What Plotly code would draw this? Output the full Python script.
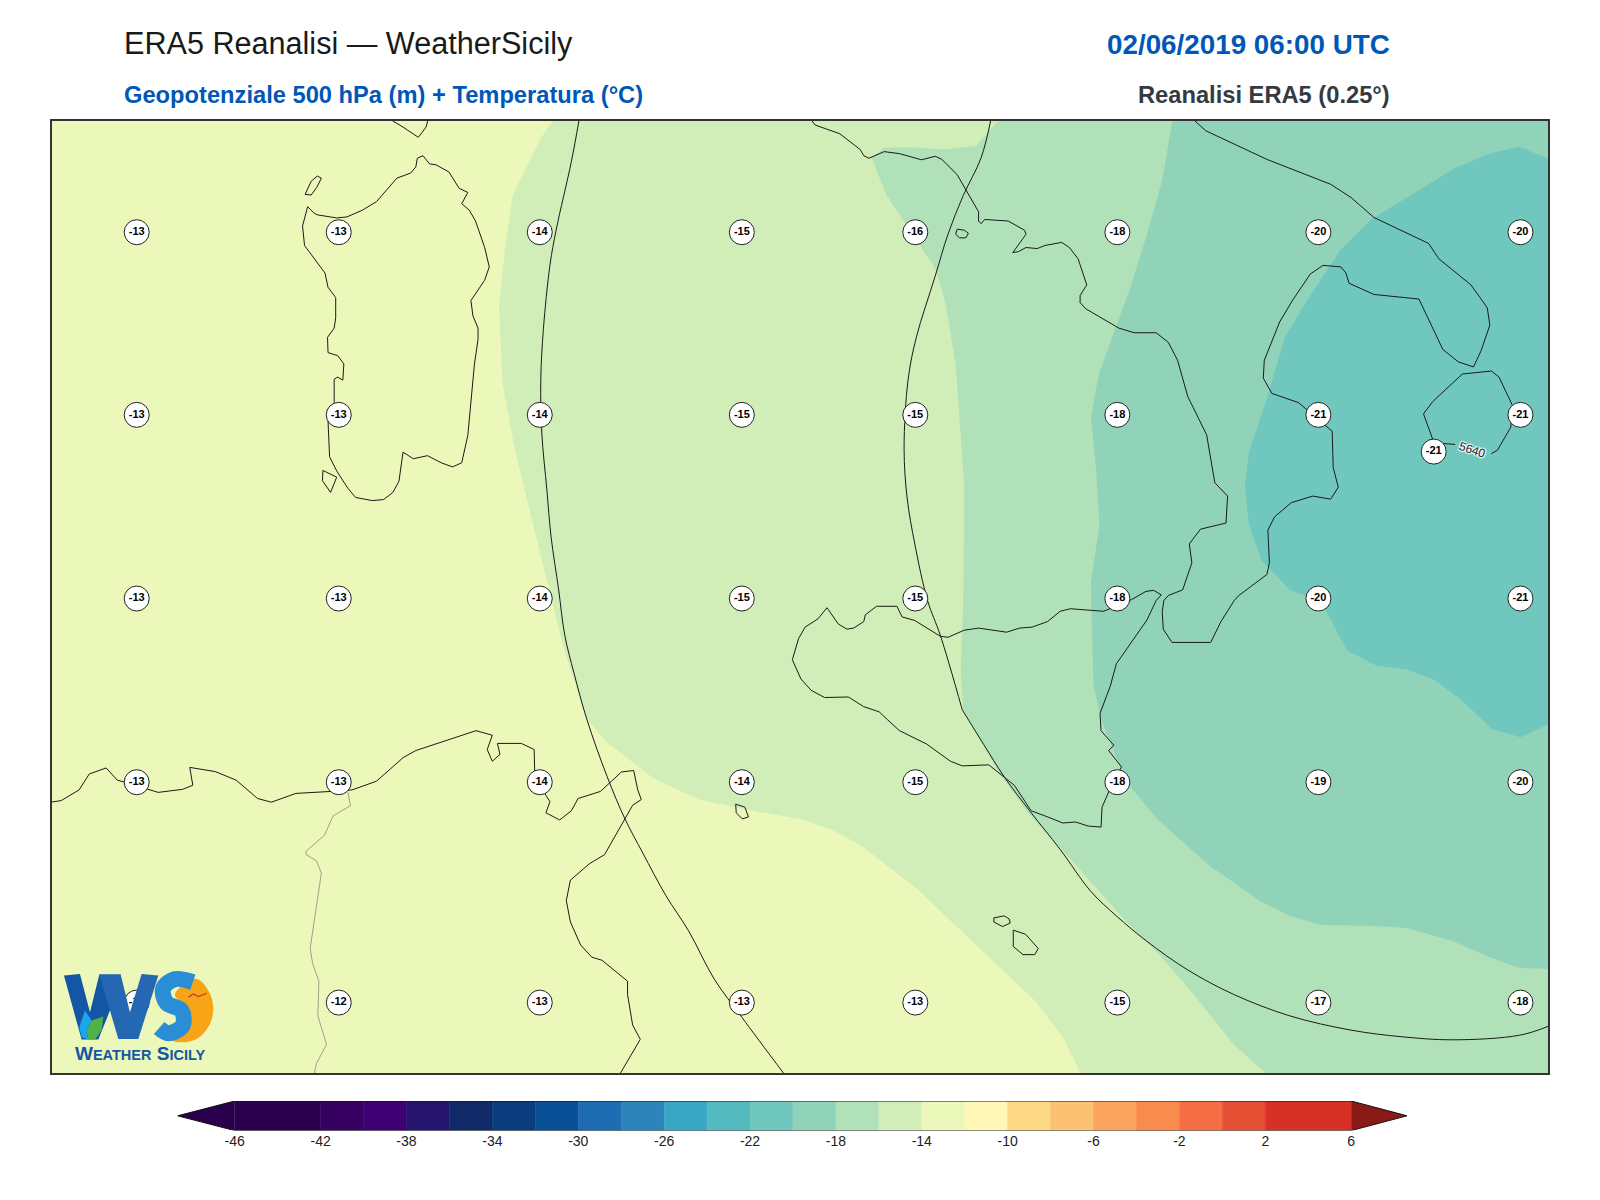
import plotly.graph_objects as go

# map coordinates (east, south map units)
COL_E = [134, 332, 529, 727, 897, 1095, 1292, 1490]
ROW_S = [227, 406, 586, 766, 982]
TEMPS = [
    [-13, -13, -14, -15, -16, -18, -20, -20],
    [-13, -13, -14, -15, -15, -18, -21, -21],
    [-13, -13, -14, -15, -15, -18, -20, -21],
    [-13, -13, -14, -14, -15, -18, -19, -20],
    [-13, -12, -13, -13, -13, -15, -17, -18],
]
EXTRA_E = [1405]
EXTRA_S = [442]
EXTRA_T = [-21]

# colour bar
CB_LEFT = [-46, -42, -40, -38, -36, -34, -32, -30, -28, -26, -24, -22, -20, -18, -16, -14, -12, -10, -8, -6, -4, -2, 0, 2]
CB_WIDTH = [4, 2, 2, 2, 2, 2, 2, 2, 2, 2, 2, 2, 2, 2, 2, 2, 2, 2, 2, 2, 2, 2, 2, 4]
CB_COLORS = ["#2a004d", "#35005f", "#3f0074", "#25156f", "#0f2a66", "#0b3c7e", "#094f96", "#1e6cb1",
             "#2c84ba", "#39a6c4", "#53bbc0", "#70c7bd", "#91d3b9", "#b1e1b8", "#d1edb8", "#ecf7ba",
             "#fef7b6", "#fdd986", "#fdc174", "#fca55e", "#f98b4c", "#f46d43", "#e55035", "#d73027"]
CB_TICKS = [-46, -42, -38, -34, -30, -26, -22, -18, -14, -10, -6, -2, 2, 6]

# temperature bands, warm to cold
BAND14_E = [542.5, 530, 502.5, 495, 489, 492.5, 505, 520, 535, 544, 552.5, 575, 595, 640, 685, 735, 784, 814, 844, 899, 954, 1014, 1041.5, 1059.5, 1518, 1518]
BAND14_S = [117, 135, 191, 244, 300, 375, 442.5, 502.5, 562.5, 599, 635, 704, 727, 762, 783, 793.5, 802, 812, 828, 871, 923.6, 980, 1015.5, 1052, 1052, 117]
BAND16_E = [979, 956.5, 926.5, 896.5, 866.5, 854, 869, 899, 916.5, 926.5, 936.5, 945, 944, 941.5, 944, 979, 1009, 1054, 1104, 1134, 1164, 1209, 1241.5, 1518, 1518]
BAND16_S = [117, 142.5, 146, 144, 144, 154, 191, 236, 262.5, 296, 356, 476, 588, 655.5, 695, 757, 798, 847, 903, 933, 967, 1023, 1052, 1052, 117]
BAND18_E = [1149, 1139, 1124, 1109, 1091.5, 1076.5, 1069, 1074, 1077.5, 1069, 1071.5, 1079, 1094, 1109, 1134, 1184, 1234, 1264, 1294, 1349, 1379, 1424, 1459, 1489, 1518, 1518]
BAND18_S = [117, 176, 229, 277.5, 326, 367.5, 409, 457.5, 514, 570, 670.5, 704, 742, 772, 802, 847, 882, 897, 906, 907, 909, 922, 937, 948, 949, 117]
BAND20_E = [1518, 1489, 1459, 1424, 1379, 1344, 1314, 1284, 1259, 1241.5, 1224, 1220, 1224, 1236.5, 1264, 1284, 1296.5, 1320, 1349, 1379, 1405.5, 1434, 1461.5, 1490, 1518]
BAND20_S = [155.6, 143, 150, 165, 193, 214, 244, 289, 330, 390, 442.5, 476, 514, 549, 577.5, 585, 592, 637, 652, 655.5, 665.6, 687, 713.6, 722, 709]

# coasts
CORSICA_E = [383.5, 395, 410, 417.5, 419.5]
CORSICA_S = [117, 124, 134, 124, 117]
ASINARA_E = [299, 305, 311, 315, 310.5, 305, 299]
ASINARA_S = [190, 177, 172, 174, 183, 190.5, 190]
SARDINIA_E = [301.5, 307.5, 311, 330, 340, 355, 369, 380, 389, 402.5, 407.5, 409, 414.5, 421, 427.5, 440, 450, 458.5, 452.5, 460, 466, 475, 479.5, 475, 461.5, 463.5, 468.5, 468.5, 465, 458.5, 452.5, 443.5, 432.5, 419, 405, 395, 391, 385, 376, 365, 348.5, 341, 330, 323, 321.5, 327.5, 327.5, 331, 336, 337, 331, 321.5, 321, 327.5, 329, 329, 321.5, 318.5, 310, 298.5, 296.5, 301.5]
SARDINIA_S = [202, 208, 210, 213, 212, 205.5, 197, 184, 174, 169, 163, 154.5, 152, 160, 161, 168, 184, 188, 199, 205.5, 216, 242, 261, 274, 294, 309, 321, 332, 356, 426, 453, 457, 453, 446, 449, 442.5, 471, 482, 489, 490, 487, 478, 461, 447, 412.5, 394, 371, 369, 372, 356, 348, 345, 330, 321, 311, 291, 281, 267, 255, 240, 221, 202]
SAN_PIETRO_E = [316.5, 330, 324, 316, 316.5]
SAN_PIETRO_S = [460.5, 467, 482, 470.5, 460.5]
ITALY_E = [795, 799, 823, 843, 846.5, 851.5, 866.5, 881.5, 903, 916.5, 923, 938, 959, 959, 961.5, 965, 988, 1004, 1005.5, 992.5, 998, 1005.5, 1016.5, 1024, 1040.5, 1048, 1056.5, 1065, 1058.5, 1058.5, 1064, 1096.5, 1111.5, 1133, 1145, 1154, 1164, 1182.5, 1190.5, 1203, 1201.5, 1176.5, 1165.5, 1168, 1159, 1145, 1140.5, 1139, 1140, 1148.5, 1186.5, 1196.5, 1209.5, 1214, 1241.5, 1244, 1242.5, 1249, 1265.5, 1286.5, 1304, 1311.5, 1306.5, 1305.5, 1272.5, 1246.5, 1238, 1239, 1254, 1266.5, 1284, 1296.5, 1314, 1319, 1322, 1346.5, 1390.5, 1414, 1429, 1444, 1451.5, 1460, 1457.5, 1441.5, 1410, 1400, 1346.5, 1324, 1304, 1241.5, 1181.5, 1170]
ITALY_S = [117, 122, 130.5, 146, 152, 154.5, 148, 150, 156, 152.6, 155.6, 170.6, 207, 216, 218.6, 214.5, 216, 225, 229, 247, 246, 242, 243, 240, 237, 242, 253, 278.6, 289, 296, 302, 321, 325.5, 325.5, 335, 352.5, 388, 425.6, 472.5, 485.6, 512, 518, 532.5, 551, 577.5, 583, 588, 599, 616, 629, 629, 608.6, 588, 583, 562.5, 551, 519, 506, 492, 485.6, 488.6, 477, 457.5, 422, 394, 385, 370, 352.5, 315, 294, 268, 259.5, 261, 267, 277, 288, 292.5, 342, 354, 359, 343, 318, 301, 278.6, 253, 238, 212.6, 193, 180, 155.6, 127.5, 117]
PONZA_E = [938, 945, 949, 946.5, 940.5, 936.5, 938]
PONZA_S = [224, 225, 228, 232.5, 232.5, 229, 224]
SICILY_E = [810.5, 821.5, 830, 836.5, 846.5, 848, 859, 879, 884, 896.5, 921.5, 929, 945, 959, 986.5, 999, 1011.5, 1026.5, 1039, 1049, 1081.5, 1109, 1123, 1130.5, 1138, 1133, 1124, 1094, 1088, 1078, 1079, 1091.5, 1086.5, 1099, 1086.5, 1080, 1079, 1066.5, 1054, 1041.5, 1024, 1010.5, 994, 969, 943, 931.5, 908, 881.5, 870, 861.5, 846.5, 831.5, 808, 795, 785, 776.5, 782.5, 789, 801.5, 810.5]
SICILY_S = [595, 611, 616, 615, 608.6, 602, 593.6, 593.6, 604, 607.5, 623, 624, 617, 615, 619, 615, 614, 608.6, 598.5, 596, 598.5, 587, 579, 578, 582.4, 588, 607, 650, 672, 698.6, 715.5, 729.75, 735, 751, 775.5, 790.5, 810, 809, 805, 806, 799, 794, 769, 749, 750, 745.5, 728.6, 715.5, 705, 697, 692, 682.5, 683, 676, 665, 646, 625.5, 614, 606, 595]
PANTELLERIA_E = [721, 730, 733.5, 727.5, 721.5, 721]
PANTELLERIA_S = [787.5, 790.5, 800, 802, 796, 787.5]
GOZO_E = [974, 984, 989, 990, 982.5, 974, 974]
GOZO_S = [899, 897, 900, 904, 907.5, 903, 899]
MALTA_E = [993, 1005, 1017.5, 1014, 1002.5, 993, 993]
MALTA_S = [911, 915, 929, 935, 935, 927, 911]
AFRICA_E = [50, 60, 77.5, 87.5, 104, 115, 122.5, 155, 179, 189, 186, 211, 231.5, 252.5, 266, 290, 325, 345, 369, 395, 407.5, 466.5, 482.5, 477.5, 482.5, 490, 487.5, 511, 523.5, 524, 535, 539, 535, 548.5, 560, 566.5, 588.5, 609, 621, 625, 628.5, 620, 592.5, 577.5, 559, 555, 559, 569, 580, 590, 615, 615, 620, 627.5, 607.5]
AFRICA_S = [785.6, 784, 773.6, 758, 752, 764, 766, 776, 773, 769, 751.5, 755.6, 764, 782, 785.6, 777, 775, 773.6, 765, 742, 735, 715.5, 720, 734, 745.5, 738.75, 728, 728, 734, 755, 779, 785, 796, 803, 794, 782, 775, 756, 754.5, 773.6, 783, 788.6, 837, 846, 862, 882, 903, 925.5, 937.5, 940.5, 961, 974, 1004, 1018, 1052]
BORDER_E = [341, 343.5, 326.5, 318, 300, 300, 310, 315, 304, 306.5, 312.5, 311.5, 320, 310, 308]
BORDER_S = [775.5, 789, 799, 818, 833.6, 837, 843, 855, 929, 944, 961, 995, 1023, 1042, 1052]

# geopotential contours
Z_WEST_E = [567.5, 560, 545, 539, 532.5, 530, 531, 536, 540, 547.5, 553.5, 562.5, 575, 595, 612.5, 630, 652.5, 675, 700, 727.5, 768.5]
Z_WEST_S = [117, 157.5, 225, 259, 322.5, 371, 424, 480, 525, 577.5, 622, 659, 704, 760.5, 802, 835.5, 877, 912, 959, 997, 1052]
Z_EAST_UP_E = [971, 961.5, 944, 929, 916.5, 898, 890, 886, 889, 896.5, 909, 921.5, 943]
Z_EAST_UP_S = [117, 154, 191, 229, 270, 330, 371, 439, 487.5, 532.5, 588, 622, 695]
Z_EAST_LOW_E = [943, 964, 984, 1009, 1039, 1069, 1094, 1124, 1164, 1209, 1264, 1324, 1374, 1424, 1489, 1518]
Z_EAST_LOW_S = [695, 729, 760.5, 794, 832, 873, 897, 922, 950, 974, 995, 1009, 1015.5, 1018.5, 1014, 1005]
Z_LOOP_E = [1426, 1414, None, 1404, 1395, 1404, 1433, 1461.5, 1469, 1482.5, 1480.5, 1467.5, 1461.5]
Z_LOOP_S = [435, 434, None, 430, 405, 393, 366, 363, 369, 397.5, 418, 440.6, 444]

# logo
LOGO_W1_E = [62.7, 78.4, 88.2, 97.4, 118.3, 107.8, 96.4, 80, 62.7]
LOGO_W1_S = [955.5, 953.9, 991.4, 954.5, 954.5, 989.8, 1018.2, 1018.2, 955.5]
LOGO_W2_E = [97.4, 118.3, 127.4, 138.8, 155.2, 135.6, 116, 97.4]
LOGO_W2_S = [954.5, 954.5, 991.4, 953.9, 955.5, 1017.6, 1017.6, 954.5]
LOGO_S_E = [189, 171.5, 160, 163, 178, 179, 165, 156]
LOGO_S_S = [962, 959, 968, 982, 990, 1004.5, 1012, 1007]
LOGO_SUN_E = [192.7, 204.2, 209, 205.8, 192.7, 174.8, 156.8, 174.8, 186.2, 186.2, 171.5, 174.8, 192.7]
LOGO_SUN_S = [958.8, 970.2, 986.5, 1002.9, 1017.6, 1020.8, 1014.3, 1015.9, 1006.1, 989.8, 975.1, 968.6, 958.8]
LOGO_LEAF_E = [84.9, 89.8, 101.3, 99.6, 93.1, 86.6, 84.9]
LOGO_LEAF_S = [1009.4, 999.6, 995.7, 1009.4, 1018.2, 1018.2, 1009.4]
LOGO_DROP_E = [83.3, 89.8, 84.9, 86.6, 80, 77.7, 83.3]
LOGO_DROP_S = [989.8, 999.6, 1009.4, 1018.2, 1016, 1006.1, 989.8]
LOGO_BIRD_E = [184.6, 189.5, 194.4, 202.6]
LOGO_BIRD_S = [976.7, 973.5, 976.1, 972.8]

FONT = "Liberation Sans"
W, H = 1600, 1200
fig = go.Figure()


def add_poly(e, s, color, name, shape="linear"):
    fig.add_trace(go.Scatter(x=e, y=s, mode="lines", fill="toself", fillcolor=color,
                             line=dict(width=0, shape=shape), hoverinfo="skip", name=name))


def add_line(e, s, name, color="#1a1a1a", width=1.0, shape="linear"):
    fig.add_trace(go.Scatter(x=e, y=s, mode="lines", line=dict(color=color, width=width, shape=shape),
                             hoverinfo="skip", name=name))


add_poly(BAND14_E, BAND14_S, CB_COLORS[14], "-16/-14")
add_poly(BAND16_E, BAND16_S, CB_COLORS[13], "-18/-16")
add_poly(BAND18_E, BAND18_S, CB_COLORS[12], "-20/-18")
add_poly(BAND20_E, BAND20_S, CB_COLORS[11], "-22/-20")

add_line(BORDER_E, BORDER_S, "border", color="#8a8a80", width=0.8)
for name, e, s in [("corsica", CORSICA_E, CORSICA_S), ("asinara", ASINARA_E, ASINARA_S),
                   ("sardinia", SARDINIA_E, SARDINIA_S), ("san pietro", SAN_PIETRO_E, SAN_PIETRO_S),
                   ("italy", ITALY_E, ITALY_S), ("ponza", PONZA_E, PONZA_S), ("sicily", SICILY_E, SICILY_S),
                   ("pantelleria", PANTELLERIA_E, PANTELLERIA_S), ("gozo", GOZO_E, GOZO_S),
                   ("malta", MALTA_E, MALTA_S), ("africa", AFRICA_E, AFRICA_S),
                   ("z loop", Z_LOOP_E, Z_LOOP_S)]:
    add_line(e, s, name)
add_line(Z_WEST_E, Z_WEST_S, "z west", shape="spline")
add_line(Z_EAST_UP_E, Z_EAST_UP_S, "z east", shape="spline")
add_line(Z_EAST_LOW_E, Z_EAST_LOW_S, "z east", shape="spline")

# temperature labels
label_e = [e for _ in ROW_S for e in COL_E] + EXTRA_E
label_s = [s for s in ROW_S for _ in COL_E] + EXTRA_S
label_t = [t for row in TEMPS for t in row] + EXTRA_T
fig.add_trace(go.Scatter(x=label_e, y=label_s, mode="markers+text", text=[str(t) for t in label_t],
                         textposition="middle center",
                         textfont=dict(family=FONT, size=11, color="black", weight="bold"),
                         marker=dict(size=25, color="white", line=dict(color="#222222", width=1)),
                         hoverinfo="skip", name="T"))

# logo on top of the labels
add_poly(LOGO_SUN_E, LOGO_SUN_S, "#f7a416", "logo sun", shape="spline")
add_poly(LOGO_W1_E, LOGO_W1_S, "#1356a4", "logo w")
add_poly(LOGO_W2_E, LOGO_W2_S, "#2468b4", "logo w")
add_line(LOGO_S_E, LOGO_S_S, "logo s", color="#2a8ed6", width=16, shape="spline")
add_poly(LOGO_DROP_E, LOGO_DROP_S, "#1aa6ea", "logo drop")
add_poly(LOGO_LEAF_E, LOGO_LEAF_S, "#4fb34a", "logo leaf")
add_line(LOGO_BIRD_E, LOGO_BIRD_S, "logo bird", color="#c0392b", width=1.2)

# colour bar on its own axes
fig.add_trace(go.Bar(x=[l + w / 2 for l, w in zip(CB_LEFT, CB_WIDTH)], y=[1] * len(CB_LEFT), width=CB_WIDTH,
                     marker=dict(color=CB_COLORS, line=dict(color=CB_COLORS, width=0.5)), xaxis="x2", yaxis="y2",
                     hoverinfo="skip", name="colorbar"))
fig.add_trace(go.Scatter(x=[-46, -48.66, -46], y=[0, 0.5, 1], mode="lines", fill="toself", fillcolor="#2a004d",
                         line=dict(width=0), xaxis="x2", yaxis="y2", hoverinfo="skip", name="under"))
fig.add_trace(go.Scatter(x=[6, 8.6, 6], y=[0, 0.5, 1], mode="lines", fill="toself", fillcolor="#8b1a16",
                         line=dict(width=0), xaxis="x2", yaxis="y2", hoverinfo="skip", name="over"))
fig.add_trace(go.Scatter(x=[-46, -48.66, -46, 6, 8.6, 6, -46], y=[1, 0.5, 0, 0, 0.5, 1, 1], mode="lines",
                         line=dict(color="#111111", width=1), xaxis="x2", yaxis="y2", hoverinfo="skip", name="outline"))

fig.update_layout(
    width=W,
    height=H,
    margin=dict(l=0, r=0, t=0, b=0),
    showlegend=False,
    paper_bgcolor="white",
    plot_bgcolor="white",
    font=dict(family=FONT, color="#222222"),
    xaxis=dict(domain=[52 / W, 1548 / W], range=[51, 1517], showticklabels=False, ticks="", showgrid=False,
               zeroline=False, showline=True, mirror=True, linecolor="#333333", linewidth=2),
    yaxis=dict(domain=[1 - 1073 / H, 1 - 121 / H], range=[1051, 118], showticklabels=False, ticks="", showgrid=False,
               zeroline=False, showline=True, mirror=True, linecolor="#333333", linewidth=2),
    xaxis2=dict(domain=[177.6 / W, 1407 / W], range=[-48.66, 8.6], anchor="y2", tickvals=CB_TICKS,
                ticktext=[str(t) for t in CB_TICKS],
                tickfont=dict(size=14, color="#222222"), ticks="", showgrid=False, zeroline=False, showline=False),
    yaxis2=dict(domain=[1 - 1130.6 / H, 1 - 1101 / H], range=[0, 1], anchor="x2", visible=False),
)
# warmest band fills the whole map
fig.add_shape(type="rect", xref="x domain", yref="y domain", x0=0, x1=1, y0=0, y1=1,
              fillcolor=CB_COLORS[15], line=dict(width=0), layer="below")


def add_text(x, y, text, size, color, anchor="left", bold=False):
    fig.add_annotation(xref="paper", yref="paper", x=x / W, y=1 - y / H, text=text, showarrow=False,
                       xanchor=anchor, yanchor="middle",
                       font=dict(family=FONT, size=size, color=color, weight="bold" if bold else "normal"))


add_text(121.5, 44, "ERA5 Reanalisi — WeatherSicily", 30.6, "#1a1a1a")
add_text(1391.5, 45, "02/06/2019 06:00 UTC", 27.8, "#0057b8", anchor="right", bold=True)
add_text(121.5, 95, "Geopotenziale 500 hPa (m) + Temperatura (°C)", 23.7, "#0057b8", bold=True)
add_text(1391.5, 95, "Reanalisi ERA5 (0.25°)", 23.7, "#333a40", anchor="right", bold=True)

# contour label, map coordinates
fig.add_annotation(x=1443, y=440, xref="x", yref="y", text="5640", showarrow=False, textangle=18,
                   font=dict(family=FONT, size=12, color="#222222",
                             shadow="1px 1px 1px white, -1px -1px 1px white, 1px -1px 1px white, -1px 1px 1px white"))

# logo caption, map coordinates
small = '<span style="font-size:14.5px">%s</span>'
fig.add_annotation(x=137.5, y=1032, xref="x", yref="y", showarrow=False,
                   text="W" + small % "EATHER" + " S" + small % "ICILY",
                   font=dict(family=FONT, size=19, color="#1356a4", weight="bold"))

fig.write_html("out.html", post_script="document.body.style.margin='0';", config=dict(displayModeBar=False))
